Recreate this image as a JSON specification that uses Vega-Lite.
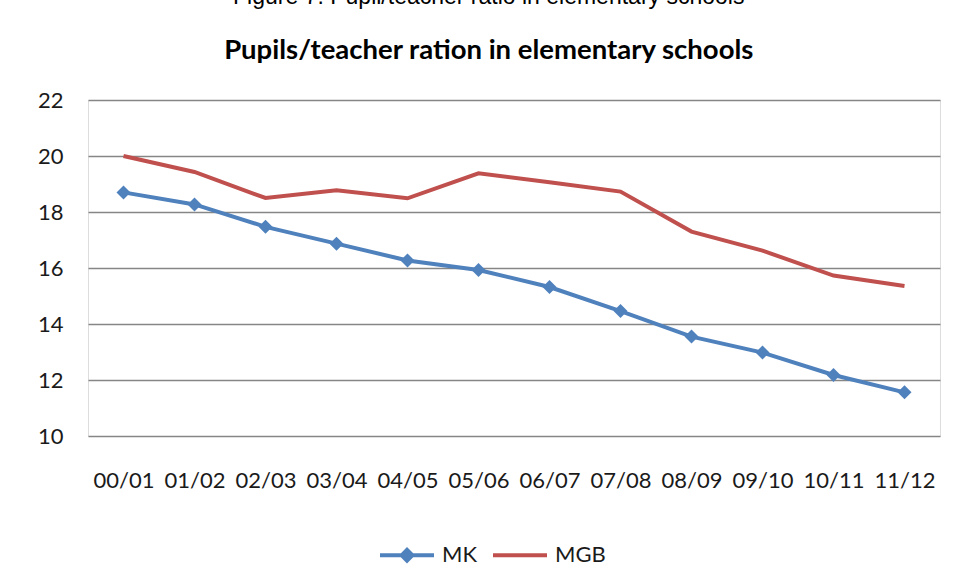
{
  "$schema": "https://vega.github.io/schema/vega-lite/v6.json",
  "autosize": {"type": "none"},
  "width": 852,
  "height": 336,
  "padding": {"left": 88, "top": 100, "right": 16, "bottom": 147},
  "background": "white",
  "title": {
    "text": "Figure 7: Pupil/teacher ratio in elementary schools",
    "subtitle": "Pupils/teacher ration in elementary schools",
    "anchor": "middle",
    "frame": "bounds",
    "font": "Liberation Sans",
    "fontSize": 23,
    "fontWeight": "normal",
    "color": "#000000",
    "subtitleFont": "Lato",
    "subtitleFontSize": 27.5,
    "subtitleFontWeight": "bold",
    "subtitleColor": "#000000",
    "subtitlePadding": 28,
    "offset": 25
  },
  "data": {
    "values": [
      {"year": "00/01", "series": "MK", "value": 18.7},
      {"year": "01/02", "series": "MK", "value": 18.27},
      {"year": "02/03", "series": "MK", "value": 17.47},
      {"year": "03/04", "series": "MK", "value": 16.87},
      {"year": "04/05", "series": "MK", "value": 16.27},
      {"year": "05/06", "series": "MK", "value": 15.93},
      {"year": "06/07", "series": "MK", "value": 15.32},
      {"year": "07/08", "series": "MK", "value": 14.46},
      {"year": "08/09", "series": "MK", "value": 13.55},
      {"year": "09/10", "series": "MK", "value": 12.98},
      {"year": "10/11", "series": "MK", "value": 12.18},
      {"year": "11/12", "series": "MK", "value": 11.56},
      {"year": "00/01", "series": "MGB", "value": 20.0},
      {"year": "01/02", "series": "MGB", "value": 19.43},
      {"year": "02/03", "series": "MGB", "value": 18.5},
      {"year": "03/04", "series": "MGB", "value": 18.78},
      {"year": "04/05", "series": "MGB", "value": 18.49},
      {"year": "05/06", "series": "MGB", "value": 19.38},
      {"year": "06/07", "series": "MGB", "value": 19.06},
      {"year": "07/08", "series": "MGB", "value": 18.73},
      {"year": "08/09", "series": "MGB", "value": 17.3},
      {"year": "09/10", "series": "MGB", "value": 16.62},
      {"year": "10/11", "series": "MGB", "value": 15.73},
      {"year": "11/12", "series": "MGB", "value": 15.36}
    ]
  },
  "encoding": {
    "x": {
      "field": "year",
      "type": "ordinal",
      "scale": {"type": "point", "padding": 0.5},
      "sort": null,
      "axis": {
        "title": null,
        "labelAngle": 0,
        "ticks": false,
        "domain": false,
        "grid": false,
        "labelFont": "Lato",
        "labelFontSize": 22,
        "labelColor": "#1a1a1a",
        "labelPadding": 34
      }
    },
    "y": {
      "field": "value",
      "type": "quantitative",
      "scale": {"domain": [10, 22], "nice": false, "zero": false},
      "axis": {
        "title": null,
        "values": [10, 12, 14, 16, 18, 20, 22],
        "ticks": false,
        "domain": false,
        "grid": true,
        "gridColor": "#868686",
        "gridWidth": 1.5,
        "labelFont": "Lato",
        "labelFontSize": 22,
        "labelColor": "#1a1a1a",
        "labelPadding": 25
      }
    },
    "color": {
      "field": "series",
      "type": "nominal",
      "scale": {"domain": ["MK", "MGB"], "range": ["#4F81BD", "#C0504D"]},
      "legend": {
        "title": null,
        "orient": "none",
        "direction": "horizontal",
        "legendX": 290,
        "legendY": 426,
        "symbolSize": 2916,
        "symbolStrokeWidth": 4,
        "labelFont": "Lato",
        "labelFontSize": 22,
        "labelColor": "#1a1a1a",
        "labelOffset": 6,
        "columnPadding": 7,
        "encode": {
          "symbols": {
            "update": {
              "shape": {"signal": "datum.value === 'MK' ? 'M-1,0H1M-0.2,0L0,-0.2L0.2,0L0,0.2Z' : 'M-1,0H1M0,-0.2L0,-0.2M0,0.2L0,0.2'"},
              "fill": {"signal": "datum.value === 'MK' ? '#4F81BD' : 'transparent'"},
              "stroke": {"signal": "datum.value === 'MK' ? '#4F81BD' : '#C0504D'"},
              "strokeWidth": {"value": 4}
            }
          }
        }
      }
    }
  },
  "layer": [
    {
      "mark": {"type": "line", "strokeWidth": 4}
    },
    {
      "transform": [{"filter": "datum.series === 'MK'"}],
      "mark": {"type": "point", "shape": "diamond", "filled": true, "size": 196, "opacity": 1}
    }
  ]
}
